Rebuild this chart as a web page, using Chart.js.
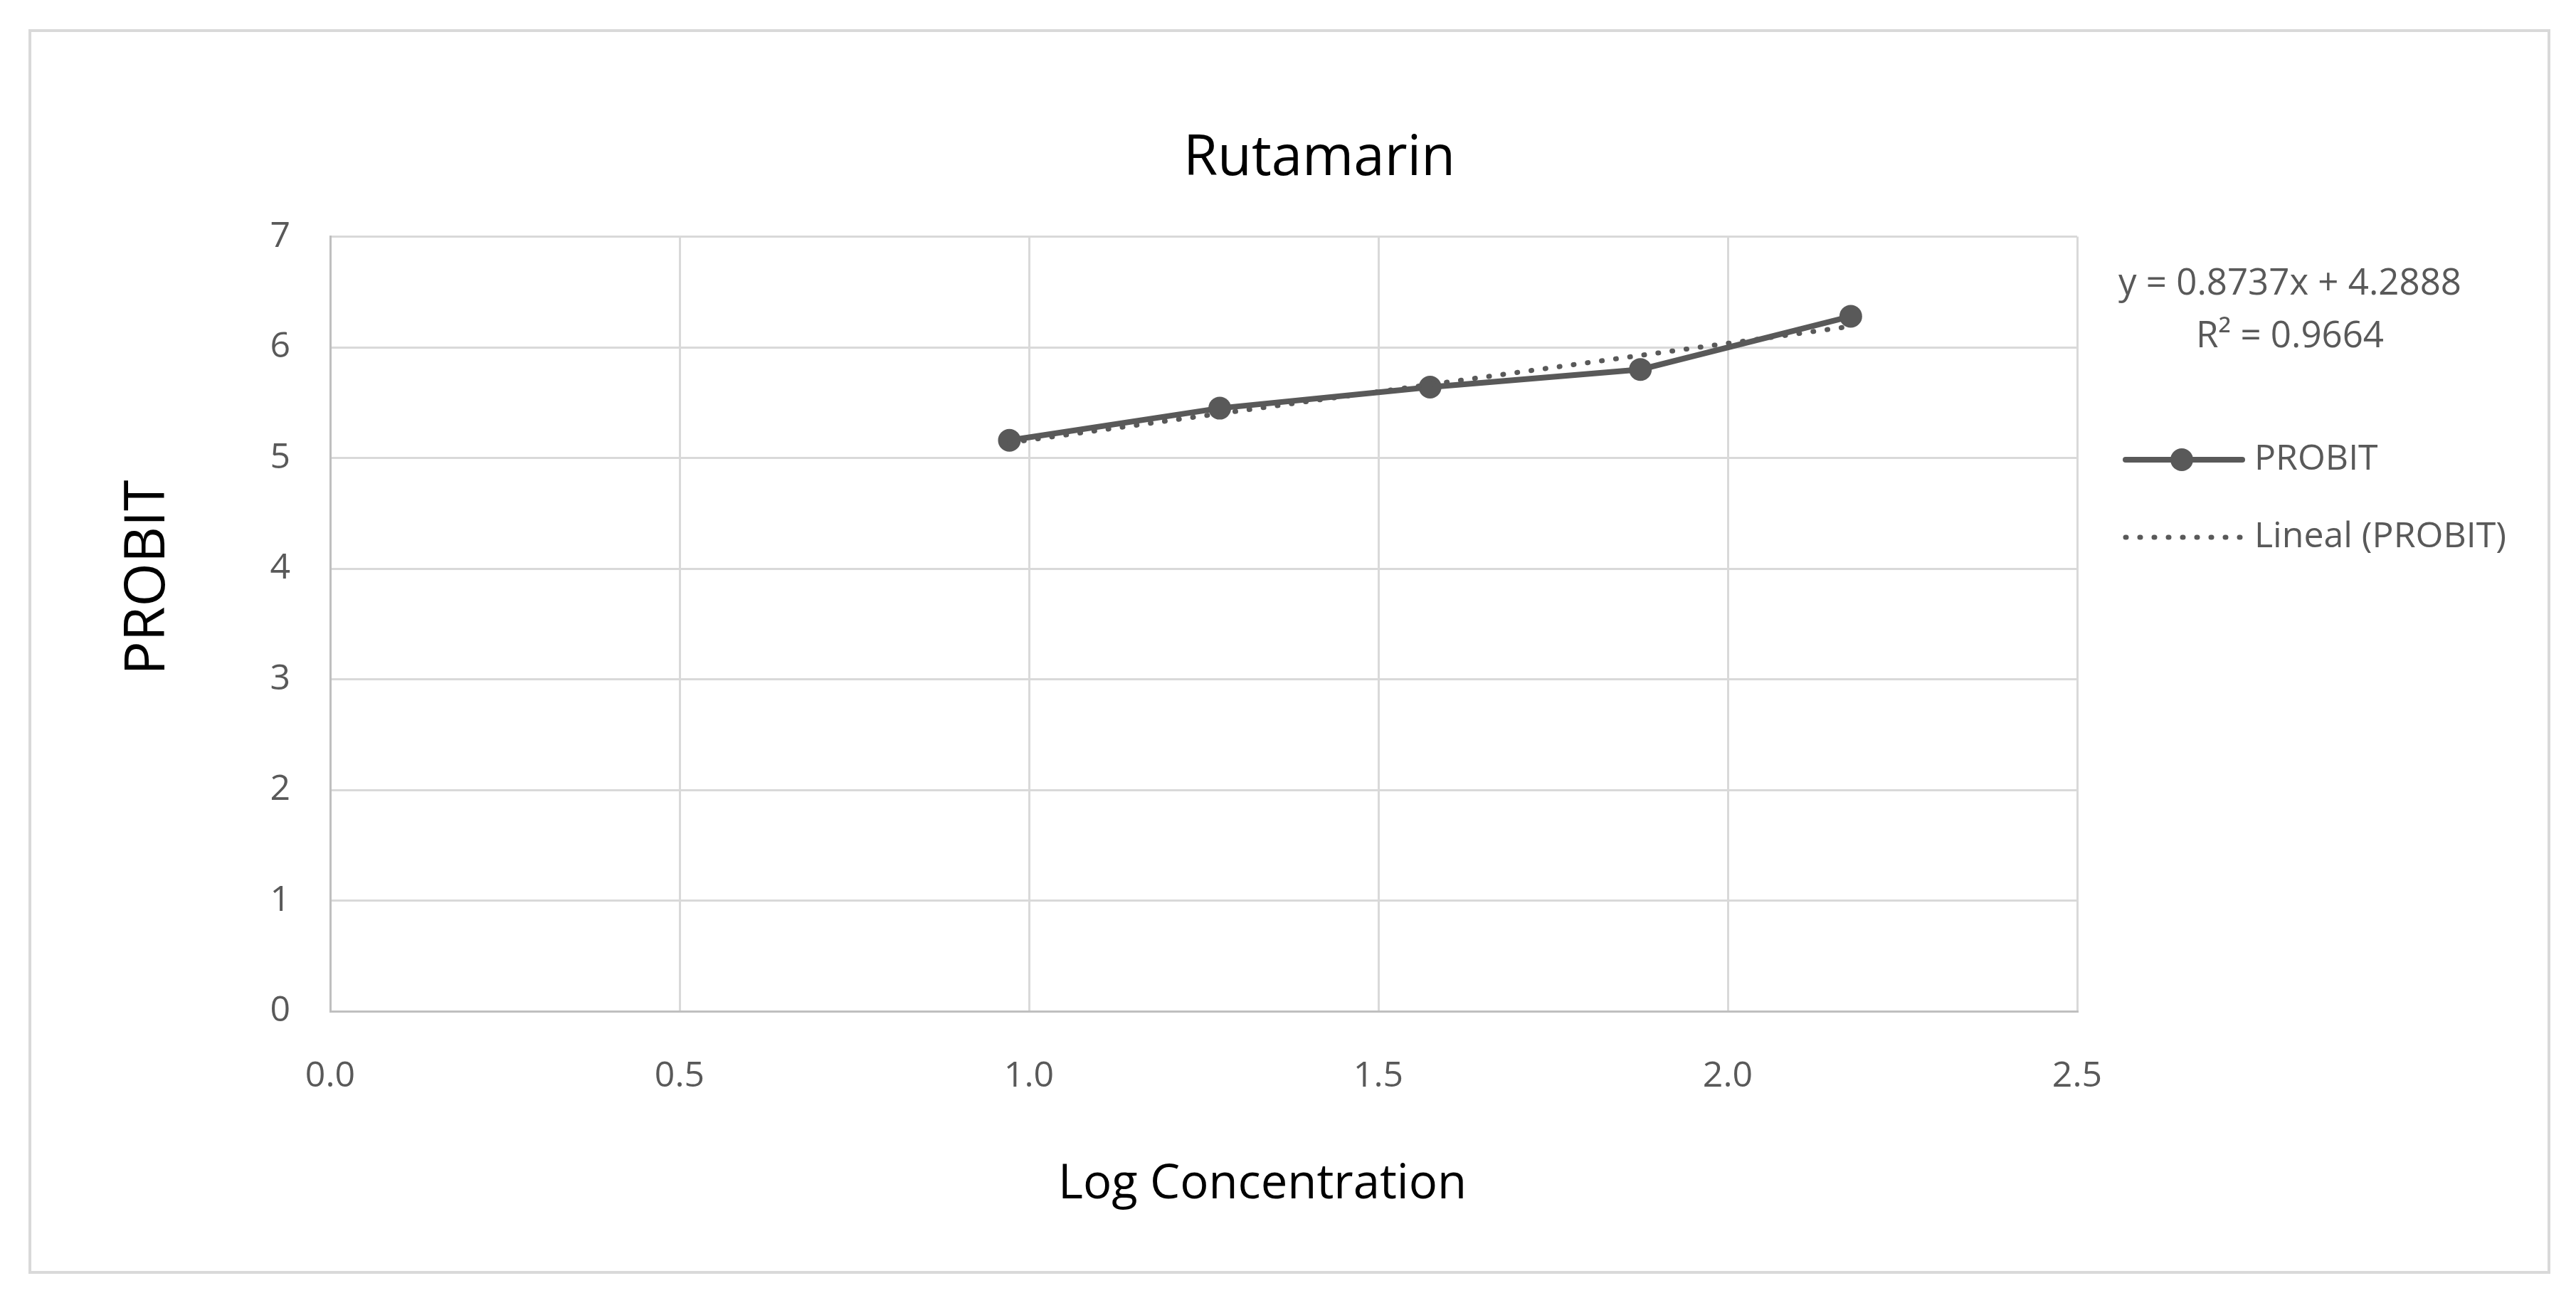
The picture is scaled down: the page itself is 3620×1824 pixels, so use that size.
<!DOCTYPE html>
<html>
<head>
<meta charset="utf-8">
<title>Rutamarin</title>
<script src="https://cdn.jsdelivr.net/npm/chart.js@4.4.1/dist/chart.umd.min.js"></script>
<style>
    html, body { margin: 0; padding: 0; background: #fff; }
    #wrap { position: relative; width: 3620px; height: 1824px; }
    #frame {
        position: absolute; left: 40px; top: 41px; width: 3544px; height: 1749px;
        box-sizing: border-box; border: 4px solid #d9d9d9;
    }
    #chart { position: absolute; left: 0; top: 0; }
</style>
</head>
<body>
<div id="wrap">
    <div id="frame"></div>
    <canvas id="chart" width="3620" height="1824"></canvas>
</div>
<script>
// datos
const logConc = [0.972, 1.273, 1.574, 1.875, 2.176];
const probit = [5.16, 5.45, 5.64, 5.80, 6.28];

// recta de tendencia (Excel)
const trendSlope = 0.8737;
const trendIntercept = 4.2888;
const rSquared = 0.9664;

const xMin = 0, xMax = 2.5, xStep = 0.5;
const yMin = 0, yMax = 7, yStep = 1;

const xTitle = 'Log Concentration';
const yTitle = 'PROBIT';

const grey = '#595959';
const gridGrey = '#d9d9d9';
const axisGrey = '#bfbfbf';

Chart.defaults.font.family = '"Open Sans", sans-serif';
Chart.defaults.color = grey;

const probitPoints = logConc.map((x, i) => ({ x: x, y: probit[i] }));
const trendPoints = [logConc[0], logConc[logConc.length - 1]].map(x => ({
    x: x,
    y: trendSlope * x + trendIntercept,
}));

// titulos de ejes (descentrados como en Excel)
const axisTitles = {
    id: 'axisTitles',
    afterDraw(chart) {
        const ctx = chart.ctx;
        const a = chart.chartArea;
        ctx.save();
        ctx.fillStyle = '#000';
        ctx.textAlign = 'center';
        ctx.textBaseline = 'middle';
        ctx.font = '67px "Open Sans", sans-serif';
        ctx.fillText(xTitle, a.left + 1310, a.bottom + 244);
        ctx.translate(a.left - 256, a.top + 479);
        ctx.rotate(-Math.PI / 2);
        ctx.font = '79px "Open Sans", sans-serif';
        ctx.fillText(yTitle, 0, 0);
        ctx.restore();
    },
};

// leyenda y ecuacion a la derecha del grafico
const sideLegend = {
    id: 'sideLegend',
    afterDraw(chart) {
        const ctx = chart.ctx;
        const r = chart.chartArea.right;
        ctx.save();
        ctx.fillStyle = grey;
        ctx.font = '51px "Open Sans", sans-serif';
        ctx.textAlign = 'center';
        ctx.textBaseline = 'middle';
        ctx.fillText('y = ' + trendSlope + 'x + ' + trendIntercept, r + 299, 399);
        ctx.fillText('R\u00b2 = ' + rSquared, r + 299, 473);

        // PROBIT
        ctx.strokeStyle = grey;
        ctx.lineWidth = 8;
        ctx.lineCap = 'round';
        ctx.beginPath();
        ctx.moveTo(r + 68, 646);
        ctx.lineTo(r + 232, 646);
        ctx.stroke();
        ctx.beginPath();
        ctx.arc(r + 147, 646, 16, 0, Math.PI * 2);
        ctx.fill();

        // Lineal (PROBIT)
        ctx.lineWidth = 7;
        ctx.setLineDash([1, 19]);
        ctx.beginPath();
        ctx.moveTo(r + 68, 755);
        ctx.lineTo(r + 232, 755);
        ctx.stroke();

        ctx.textAlign = 'left';
        ctx.font = '50px "Open Sans", sans-serif';
        ctx.fillText('PROBIT', r + 249, 646);
        ctx.fillText('Lineal (PROBIT)', r + 249, 755);
        ctx.restore();
    },
};

new Chart(document.getElementById('chart'), {
    type: 'scatter',
    data: {
        datasets: [
            {
                label: 'PROBIT',
                data: probitPoints,
                showLine: true,
                borderColor: grey,
                backgroundColor: grey,
                borderWidth: 8,
                pointRadius: 16,
                pointHoverRadius: 16,
                pointBorderWidth: 0,
                order: 2,
            },
            {
                label: 'Lineal (PROBIT)',
                data: trendPoints,
                showLine: true,
                borderColor: grey,
                borderWidth: 7,
                borderDash: [1, 19],
                borderCapStyle: 'round',
                pointRadius: 0,
                order: 1,
            },
        ],
    },
    options: {
        responsive: false,
        animation: false,
        layout: {
            padding: { top: 0, left: 88, right: 0, bottom: 0 },
        },
        plugins: {
            legend: { display: false },
            tooltip: { enabled: false },
            title: {
                display: true,
                text: 'Rutamarin',
                color: '#000',
                font: { size: 78, weight: 'normal', lineHeight: 1.2 },
                padding: { top: 177, bottom: 62 },
            },
        },
        scales: {
            x: {
                type: 'linear',
                min: xMin,
                max: xMax,
                ticks: {
                    stepSize: xStep,
                    padding: 62,
                    font: { size: 50 },
                    color: grey,
                    callback: v => v.toFixed(1),
                },
                grid: { color: gridGrey, lineWidth: 3, drawTicks: false },
                border: { color: axisGrey, width: 3 },
                afterFit(scale) { scale.height = 1824 - 1421; },
            },
            y: {
                type: 'linear',
                min: yMin,
                max: yMax,
                ticks: {
                    stepSize: yStep,
                    padding: 56,
                    font: { size: 50 },
                    color: grey,
                },
                grid: { color: gridGrey, lineWidth: 3, drawTicks: false },
                border: { color: axisGrey, width: 3 },
                afterFit(scale) { scale.width = 464 - 88; },
            },
            // espacio vacio a la derecha para la ecuacion y la leyenda
            side: {
                type: 'linear',
                position: 'right',
                ticks: { display: false },
                grid: { display: false },
                border: { display: false },
                afterFit(scale) { scale.width = 3620 - 2919; },
            },
        },
    },
    plugins: [axisTitles, sideLegend],
});
</script>
</body>
</html>
